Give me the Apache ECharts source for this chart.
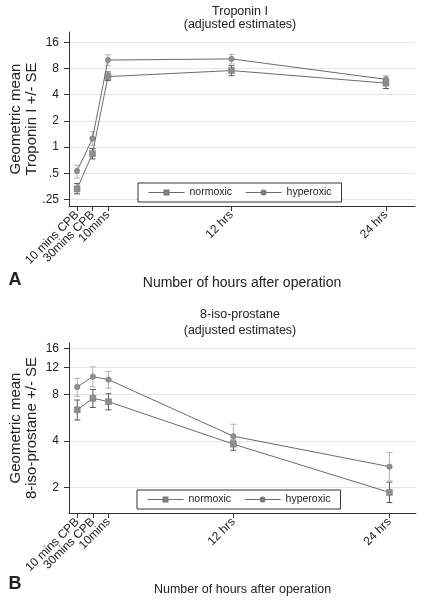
<!DOCTYPE html>
<html><head><meta charset="utf-8">
<script src="https://cdn.jsdelivr.net/npm/echarts@6/dist/echarts.min.js"></script>
<style>html,body{margin:0;padding:0;background:#fff}#c{width:427px;height:600px}</style>
</head><body><div id="c"></div><script>
const categories = ['10 mins CPB','30mins CPB','10mins','12 hrs','24 hrs'];
const xPositions = [1,2,3,11,21];
const seriesNames = ['normoxic','hyperoxic'];
const xTitle = 'Number of hours after operation';

// Panel A: Troponin I
const tropTitle = ['Troponin I','(adjusted estimates)'];
const tropYName = 'Geometric mean\nTroponin I +/- SE';
const tropTicks = [0.25,0.5,1,2,4,8,16];
const tropNormMean = [0.33,0.84,6.45,7.57,5.43];
const tropNormLow  = [0.29,0.73,5.8,6.6,4.7];
const tropNormHigh = [0.38,0.96,7.3,8.6,5.9];
const tropHypMean  = [0.53,1.25,10.0,10.3,6.0];
const tropHypLow   = [0.44,1.05,8.6,9.0,5.4];
const tropHypHigh  = [0.62,1.5,11.5,11.6,6.6];

// Panel B: 8-iso-prostane
const isoTitle = ['8-iso-prostane','(adjusted estimates)'];
const isoYName = 'Geometric mean\n8-iso-prostane +/- SE';
const isoTicks = [2,4,8,12,16];
const isoNormMean = [6.37,7.57,7.19,3.81,1.85];
const isoNormLow  = [5.47,6.6,6.37,3.48,1.59];
const isoNormHigh = [7.37,8.63,8.1,4.05,2.16];
const isoHypMean  = [8.97,10.46,10.0,4.29,2.72];
const isoHypLow   = [7.8,8.97,8.8,3.73,2.19];
const isoHypHigh  = [10.2,12.1,11.3,5.13,3.36];

const FONT = '"Liberation Sans", Arial, sans-serif';
const TXT = '#222';
const AX = '#333';
const LINE = '#6c6c6c';
const MARK = '#8e8e8e';
const ERR_NORM = '#585858';
const ERR_HYP = '#b2b2b2';

function pairs(ys){ return xPositions.map((x,i)=>[x, ys[i]]); }
function errData(lo, hi){ return xPositions.map((x,i)=>[x, lo[i], hi[i]]); }
function fmt(v){ return v < 1 ? String(+v.toFixed(4)).replace(/^0\./,'.') : String(Math.round(v)); }
function errRender(color){
  return function(params, api){
    const x = api.value(0);
    const lo = api.coord([x, api.value(1)]);
    const hi = api.coord([x, api.value(2)]);
    const w = 3;
    const style = {stroke: color, lineWidth: 1, fill: null};
    return {type:'group', children:[
      {type:'line', shape:{x1:lo[0],y1:lo[1],x2:hi[0],y2:hi[1]}, style},
      {type:'line', shape:{x1:lo[0]-w,y1:lo[1],x2:lo[0]+w,y2:lo[1]}, style},
      {type:'line', shape:{x1:hi[0]-w,y1:hi[1],x2:hi[0]+w,y2:hi[1]}, style}
    ]};
  };
}
function makeX(gridIndex, min, max, nameGap, nameSize){
  // a blank leading entry at the axis min absorbs ECharts' first-label overlap check
  const vals = [min].concat(xPositions);
  return {type:'value', gridIndex, min, max,
    axisLine:{show:true, onZero:false, lineStyle:{color:AX}},
    axisTick:{show:true, length:5, customValues:vals, lineStyle:{color:AX}},
    axisLabel:{customValues:vals, rotate:45, margin:7, hideOverlap:false,
      showMinLabel:false,
      formatter: v => { const i = xPositions.indexOf(Math.round(v*1000)/1000); return i >= 0 ? categories[i] : ' '; },
      fontSize:12, color:TXT, fontFamily:FONT},
    splitLine:{show:false},
    name:xTitle, nameLocation:'middle', nameGap, nameMoveOverlap:false,
    nameTextStyle:{fontSize:nameSize, color:TXT, fontFamily:FONT}
  };
}
function makeY(gridIndex, min, max, ticks, name, nameGap){
  return {type:'log', logBase:2, gridIndex, min, max,
    axisLine:{show:true, lineStyle:{color:AX}},
    axisTick:{show:true, length:5, customValues:ticks, lineStyle:{color:AX}},
    axisLabel:{customValues:ticks, formatter: v => fmt(v), margin:10, hideOverlap:false,
      fontSize:12, color:TXT, fontFamily:FONT},
    splitLine:{show:true, lineStyle:{color:'#e6e6e6', width:1}},
    minorTick:{show:false}, minorSplitLine:{show:false},
    name, nameLocation:'middle', nameGap, nameMoveOverlap:false,
    nameTextStyle:{fontSize:15, lineHeight:16, color:TXT, fontFamily:FONT}
  };
}
function lineSeries(name, idx, data, symbol, size){
  return {type:'line', name, xAxisIndex:idx, yAxisIndex:idx, data: pairs(data),
    symbol, symbolSize:size, z:5,
    lineStyle:{color:LINE, width:1}, itemStyle:{color:MARK, borderColor:'#777', borderWidth:0.5},
    emphasis:{disabled:true}, animation:false};
}
function errSeries(name, idx, lo, hi, color){
  return {type:'custom', name, xAxisIndex:idx, yAxisIndex:idx, data: errData(lo, hi),
    encode:{x:0, y:[1,2]}, renderItem: errRender(color), z:3, animation:false, silent:true};
}
function legendAt(left, top){
  return {data:seriesNames, left, top, orient:'horizontal',
    padding:[4,10,4,10], itemGap:13, itemWidth:36, itemHeight:5,
    borderColor:'#333', borderWidth:1, backgroundColor:'#fff',
    selectedMode:false,
    lineStyle:{width:1, color:LINE},
    textStyle:{fontSize:10.5, color:TXT, fontFamily:FONT}};
}
function txt(x, y, text, size, weight){
  return {type:'text', x, y, silent:true,
    style:{text, align:'center', verticalAlign:'middle', fontSize:size,
      fontWeight:weight||'normal', fontFamily:FONT, fill:TXT}};
}

const chart = echarts.init(document.getElementById('c'), null, {renderer:'canvas'});
chart.setOption({
  animation:false,
  backgroundColor:'#fff',
  grid:[
    {left:69, top:32, width:346, height:174, outerBoundsMode:'none', containLabel:false},
    {left:69, top:343, width:347, height:170, outerBoundsMode:'none', containLabel:false}
  ],
  xAxis:[ makeX(0, 0.48, 22.88, 70, 14), makeX(1, 0.47, 22.7, 70, 12.5) ],
  yAxis:[ makeY(0, 0.21, 21, tropTicks, tropYName, 29), makeY(1, 1.36, 17.3, isoTicks, isoYName, 29) ],
  legend:[ legendAt(138, 183), legendAt(137, 490) ],
  graphic:[
    txt(240, 12, tropTitle[0], 12.5), txt(240, 25, tropTitle[1], 12.5),
    txt(240, 315, isoTitle[0], 12.5), txt(240, 331, isoTitle[1], 12.5),
    txt(15, 280, 'A', 18, 'bold'), txt(15, 584, 'B', 18, 'bold')
  ],
  series:[
    errSeries('normoxic SE A', 0, tropNormLow, tropNormHigh, ERR_NORM),
    errSeries('hyperoxic SE A', 0, tropHypLow, tropHypHigh, ERR_HYP),
    lineSeries('normoxic', 0, tropNormMean, 'rect', 6),
    lineSeries('hyperoxic', 0, tropHypMean, 'circle', 5.5),
    errSeries('normoxic SE B', 1, isoNormLow, isoNormHigh, ERR_NORM),
    errSeries('hyperoxic SE B', 1, isoHypLow, isoHypHigh, ERR_HYP),
    lineSeries('normoxic', 1, isoNormMean, 'rect', 6),
    lineSeries('hyperoxic', 1, isoHypMean, 'circle', 5.5)
  ]
});
</script></body></html>
